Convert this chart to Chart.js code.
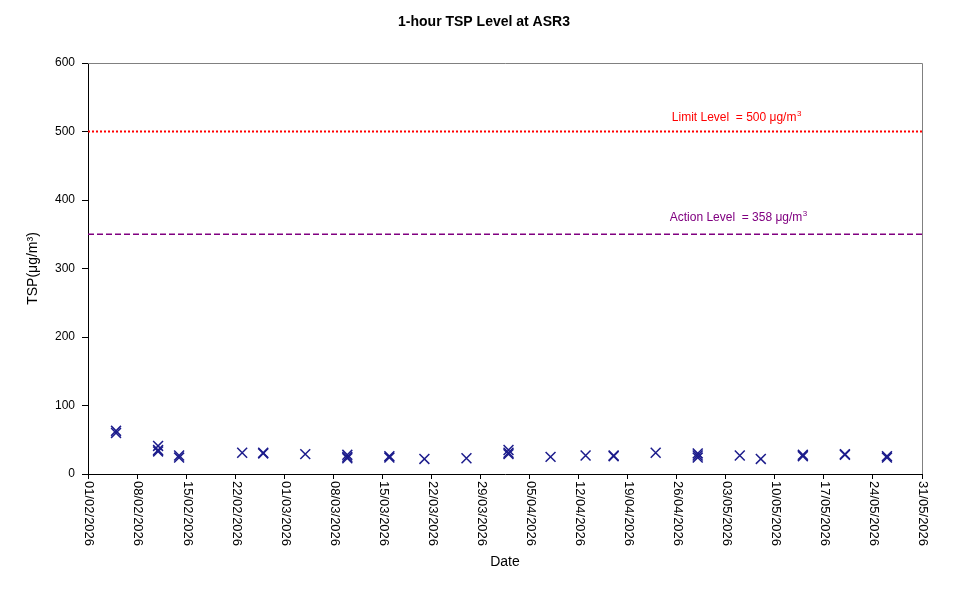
<!DOCTYPE html>
<html lang="en">
<head>
<meta charset="UTF-8">
<title>1-hour TSP Level at ASR3</title>
<style>
  body { margin: 0; background: #fff; }
  #wrap { width: 967px; height: 594px; }
</style>
</head>
<body>
<div id="wrap"><canvas id="tspChart"></canvas></div>
<script src="https://cdn.jsdelivr.net/npm/chart.js"></script>
<script>
// measured 1-hour TSP readings (µg/m3), one entry per reading
const readingDates = [
  '05/02/2026', '05/02/2026',
  '11/02/2026', '11/02/2026', '11/02/2026',
  '14/02/2026', '14/02/2026',
  '23/02/2026',
  '26/02/2026', '26/02/2026',
  '04/03/2026',
  '10/03/2026', '10/03/2026', '10/03/2026',
  '16/03/2026', '16/03/2026',
  '21/03/2026',
  '27/03/2026',
  '02/04/2026', '02/04/2026', '02/04/2026',
  '08/04/2026',
  '13/04/2026',
  '17/04/2026', '17/04/2026',
  '23/04/2026',
  '29/04/2026', '29/04/2026', '29/04/2026',
  '05/05/2026',
  '08/05/2026',
  '14/05/2026', '14/05/2026',
  '20/05/2026', '20/05/2026',
  '26/05/2026', '26/05/2026'
];
const readingValues = [
  63, 60,
  41, 35, 33,
  27, 24,
  31,
  31, 30,
  29,
  28, 25, 23,
  26, 24,
  22,
  23,
  35, 31, 29,
  25,
  27,
  27, 26,
  31,
  30, 27, 24,
  27,
  22,
  28, 26,
  29, 28,
  26, 24
];

const startDate = '01/02/2026';
const endDate = '31/05/2026';
const limitLevel = 500;
const actionLine = 350;
const limitLabel = 'Limit Level  = 500 \u03bcg/m';
const actionLabel = 'Action Level  = 358 \u03bcg/m';

const toUtc = s => {
  const [d, m, y] = s.split('/').map(Number);
  return Date.UTC(y, m - 1, d);
};
const DAY = 86400000;
const t0 = toUtc(startDate);
const dayOf = s => (toUtc(s) - t0) / DAY;
const lastDay = dayOf(endDate);

const fmtDay = v => {
  const d = new Date(t0 + v * DAY);
  const dd = String(d.getUTCDate()).padStart(2, '0');
  const mm = String(d.getUTCMonth() + 1).padStart(2, '0');
  return dd + '/' + mm + '/' + d.getUTCFullYear();
};

const points = readingDates.map((d, i) => ({ x: dayOf(d), y: readingValues[i] }));

const FONT = 'Arial, "Liberation Sans", sans-serif';

const decor = {
  id: 'decor',
  afterDraw(chart) {
    const { ctx, chartArea: a, scales: { x, y } } = chart;
    ctx.save();
    // top and right frame
    ctx.strokeStyle = '#808080';
    ctx.lineWidth = 1;
    ctx.beginPath();
    ctx.moveTo(a.left, a.top + 0.5);
    ctx.lineTo(a.right + 0.5, a.top + 0.5);
    ctx.lineTo(a.right + 0.5, a.bottom);
    ctx.stroke();

    // title
    ctx.fillStyle = '#000';
    ctx.font = 'bold 14px ' + FONT;
    ctx.textAlign = 'center';
    ctx.textBaseline = 'middle';
    ctx.fillText('1-hour TSP Level at ASR3', 484, 22);

    // rotated date labels
    ctx.font = '13px ' + FONT;
    ctx.textAlign = 'left';
    ctx.textBaseline = 'middle';
    for (let v = 0; v <= lastDay; v += 7) {
      const px = x.getPixelForValue(v);
      ctx.save();
      ctx.translate(px + 1, a.bottom + 7);
      ctx.rotate(Math.PI / 2);
      ctx.fillText(fmtDay(v), 0, 0);
      ctx.restore();
    }

    // level labels with superscript
    const label = (txt, color, val, yVal) => {
      ctx.fillStyle = color;
      ctx.font = '12px ' + FONT;
      ctx.textBaseline = 'alphabetic';
      const px = x.getPixelForValue(val);
      const py = y.getPixelForValue(yVal);
      ctx.fillText(txt, px, py);
      const w = ctx.measureText(txt).width;
      ctx.font = '8px ' + FONT;
      ctx.fillText('3', px + w + 0.5, py - 5);
    };
    ctx.textAlign = 'left';
    label(limitLabel, '#ff0000', 83.3, 515);
    label(actionLabel, '#800080', 83, 369);
    ctx.restore();
  }
};

new Chart(document.getElementById('tspChart'), {
  type: 'scatter',
  data: {
    datasets: [
      {
        label: 'TSP',
        data: points,
        pointStyle: 'crossRot',
        radius: 7,
        hoverRadius: 7,
        borderColor: '#1c1c8c',
        backgroundColor: '#1c1c8c',
        borderWidth: 1.5
      },
      {
        label: 'Limit Level',
        data: [{ x: 0, y: limitLevel }, { x: lastDay, y: limitLevel }],
        showLine: true,
        pointRadius: 0,
        borderColor: '#ff0000',
        borderWidth: 2,
        borderDash: [2, 2]
      },
      {
        label: 'Action Level',
        data: [{ x: 0, y: actionLine }, { x: lastDay, y: actionLine }],
        showLine: true,
        pointRadius: 0,
        borderColor: '#800080',
        borderWidth: 1.5,
        borderDash: [6, 3]
      }
    ]
  },
  options: {
    responsive: true,
    maintainAspectRatio: false,
    animation: false,
    layout: { padding: { top: 63, right: 45, left: 0, bottom: 0 } },
    plugins: {
      legend: { display: false },
      title: { display: false },
      tooltip: { enabled: false }
    },
    scales: {
      x: {
        type: 'linear',
        min: 0,
        max: lastDay,
        afterFit: s => { s.height = 120; },
        afterBuildTicks: s => {
          s.ticks = [];
          for (let v = 0; v <= lastDay; v += 7) s.ticks.push({ value: v });
        },
        ticks: { display: false },
        grid: { drawOnChartArea: false, tickLength: 5, color: '#000' },
        border: { color: '#000', width: 1 },
        title: {
          display: true,
          text: 'Date',
          color: '#000',
          font: { family: FONT, size: 14 },
          padding: 23
        }
      },
      y: {
        min: 0,
        max: 600,
        afterFit: s => { s.width = 88; },
        ticks: {
          stepSize: 100,
          color: '#000',
          padding: 7,
          font: { family: FONT, size: 12 }
        },
        grid: { drawOnChartArea: false, tickLength: 6, color: '#000' },
        border: { color: '#000', width: 1 },
        title: {
          display: true,
          text: 'TSP(\u03bcg/m\u00b3)',
          color: '#000',
          font: { family: FONT, size: 14 },
          padding: { top: 25, bottom: 0 }
        }
      }
    }
  },
  plugins: [decor]
});
</script>
</body>
</html>
